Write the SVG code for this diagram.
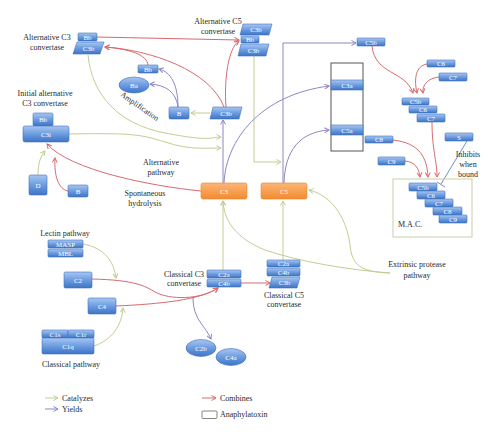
<svg xmlns="http://www.w3.org/2000/svg" width="500" height="436" viewBox="0 0 500 436">
<style>
.b{fill:url(#gb);stroke:#4272bd;stroke-width:0.6}
.o{fill:url(#go);stroke:#e3872f;stroke-width:0.6}
.t{font-family:"Liberation Serif",serif;font-size:8px;fill:#2a2a2a;text-anchor:middle}
.tl{font-family:"Liberation Serif",serif;font-size:8px;fill:#2a2a2a}
.w{font-family:"Liberation Serif",serif;font-size:7px;fill:#fff;text-anchor:middle}
.g{stroke:#c2cd92;fill:none;stroke-width:1;marker-end:url(#ag)}
.p{stroke:#8d86c4;fill:none;stroke-width:1;marker-end:url(#ap)}
.r{stroke:#d86a6e;fill:none;stroke-width:1;marker-end:url(#ar)}
</style>
<defs>
<linearGradient id="gb" x1="0" y1="0" x2="0" y2="1">
<stop offset="0" stop-color="#a8c7f2"/><stop offset="0.5" stop-color="#6d9ce0"/><stop offset="1" stop-color="#3c74c6"/>
</linearGradient>
<linearGradient id="go" x1="0" y1="0" x2="0" y2="1">
<stop offset="0" stop-color="#fcb676"/><stop offset="1" stop-color="#f38a30"/>
</linearGradient>
<marker id="ag" viewBox="0 0 6 6" refX="5" refY="3" markerWidth="6" markerHeight="6" orient="auto" markerUnits="userSpaceOnUse"><path d="M0.5,0.5 L5,3 L0.5,5.5" fill="none" stroke="#c2cd92" stroke-width="1"/></marker>
<marker id="ap" viewBox="0 0 6 6" refX="5" refY="3" markerWidth="6" markerHeight="6" orient="auto" markerUnits="userSpaceOnUse"><path d="M0.5,0.5 L5,3 L0.5,5.5" fill="none" stroke="#8d86c4" stroke-width="1"/></marker>
<marker id="ar" viewBox="0 0 6 6" refX="5" refY="3" markerWidth="6" markerHeight="6" orient="auto" markerUnits="userSpaceOnUse"><path d="M0.5,0.5 L5,3 L0.5,5.5" fill="none" stroke="#d86a6e" stroke-width="1"/></marker>
</defs>
<rect width="500" height="436" fill="#fff"/>

<g id="connectors">
<!-- green: catalyzes -->
<path class="g" d="M88,55 C92,95 118,124 165,133 S210,137 221,137"/>
<path class="g" d="M69,134 C130,133 140,134 165,142 S200,148 221,148"/>
<path class="g" d="M254,56 L254,162 L281,162"/>
<path class="g" d="M210,113 L191,113"/>
<path class="g" d="M38,175 C38,162 41,156 45,151"/>
<path class="g" d="M223,270 L223,201"/>
<path class="g" d="M283,260 L283,201"/>
<path class="g" d="M390,273 C360,272 352,265 350,245 C346,215 330,195 309,190"/>
<path class="g" d="M390,273 C350,270 300,262 265,250 C235,238 224,220 223,201"/>
<path class="g" d="M83,244 C105,248 114,262 116,278"/>
<path class="g" d="M94,346 C112,340 122,325 123,308"/>
<!-- purple: yields -->
<path class="p" d="M223,183 L223,120"/>
<path class="p" d="M224,183 C226,140 260,95 329,86"/>
<path class="p" d="M283,183 L283,43 L356,43"/>
<path class="p" d="M284,183 C285,150 300,132 329,130"/>
<path class="p" d="M178,107 C178,85 171,72 159,69"/>
<path class="p" d="M178,107 C176,92 166,85 150,84"/>
<path class="p" d="M193,297 C193,320 205,325 211,339"/>
<!-- red: combines -->
<path class="r" d="M96,37 L239,40"/>
<path class="r" d="M226,107 C224,80 228,48 239,41"/>
<path class="r" d="M224,107 C210,70 150,50 105,47"/>
<path class="r" d="M148,65 C147,55 130,49 105,47"/>
<path class="r" d="M201,191 C150,186 70,170 47,144"/>
<path class="r" d="M68,191 C58,189 54,175 55,158"/>
<path class="r" d="M92,279 C135,280 145,286 155,292 C170,300 200,300 218,288"/>
<path class="r" d="M116,306 C160,304 200,300 218,288"/>
<path class="r" d="M241,283 L270,283"/>
<path class="r" d="M372,46 C375,75 405,70 413,93"/>
<path class="r" d="M427,64 C415,66 414,80 417,93"/>
<path class="r" d="M439,77 C428,78 422,85 423,93"/>
<path class="r" d="M405,161 C415,162 419,168 420,177"/>
<path class="r" d="M393,140 C420,143 427,158 428,177"/>
<path class="r" d="M432,122 C432,150 437,160 437,177"/>
<!-- inhibition -->
<path d="M467,141 L441,184 M437,182 L445,187" stroke="#6f8fc8" stroke-width="1" fill="none"/>
</g>

<g id="alt-c3-convertase">
<text class="t" x="47" y="40">Alternative C3</text>
<text class="t" x="47" y="50">convertase</text>
<rect class="b" x="78" y="33" width="19" height="8" rx="1"/>
<text class="w" x="87.5" y="39.5">Bb</text>
<polygon class="b" points="77,42 104,42 100,54 73,54"/>
<text class="w" x="88.5" y="50.5">C3b</text>
</g>

<g id="alt-c5-convertase">
<text class="t" x="218" y="24">Alternative C5</text>
<text class="t" x="218" y="34">convertase</text>
<polygon class="b" points="243,24 272,24 269,35 240,35"/>
<text class="w" x="256" y="32">C3b</text>
<rect class="b" x="241" y="36" width="18" height="7" rx="1"/>
<text class="w" x="250" y="42">Bb</text>
<polygon class="b" points="241,44 269,44 266,56 238,56"/>
<text class="w" x="253.5" y="52.5">C3b</text>
</g>

<g id="initial-alt-c3">
<text class="t" x="45" y="96">Initial alternative</text>
<text class="t" x="45" y="106">C3 convertase</text>
<rect class="b" x="33" y="113" width="20" height="13" rx="1.5"/>
<text class="w" x="43" y="121.5">Bb</text>
<rect class="b" x="23" y="126" width="46" height="16" rx="2"/>
<text class="w" x="46" y="136.5">C3i</text>
</g>

<g id="D"><rect class="b" x="29" y="175" width="18" height="20" rx="1.5"/><text class="w" x="38" y="187.5">D</text></g>
<g id="B1"><rect class="b" x="68" y="185" width="20" height="12" rx="1.5"/><text class="w" x="78" y="193.5">B</text></g>

<g id="Bb-small"><rect class="b" x="138" y="65" width="20" height="8" rx="1"/><text class="w" x="148" y="71.5">Bb</text></g>
<g id="Ba"><ellipse class="b" cx="134" cy="85" rx="15" ry="8"/><text class="w" x="134" y="87.5">Ba</text></g>
<g id="B2"><rect class="b" x="169" y="107" width="20" height="12" rx="1.5"/><text class="w" x="179" y="115.5">B</text></g>
<g id="C3b-mid"><polygon class="b" points="213,107 242,107 239,119 210,119"/><text class="w" x="226" y="115.5">C3b</text></g>

<g id="labels-mid">
<text class="t" x="140" y="109" transform="rotate(35 140 106)">Amplification</text>
<text class="t" x="161" y="165">Alternative</text>
<text class="t" x="161" y="175">pathway</text>
<text class="t" x="145" y="196">Spontaneous</text>
<text class="t" x="145" y="206">hydrolysis</text>
</g>

<g id="C3"><rect class="o" x="201" y="183" width="46" height="16" rx="2"/><text class="w" x="224" y="193.5">C3</text></g>
<g id="C5"><rect class="o" x="261" y="183" width="46" height="16" rx="2"/><text class="w" x="284" y="193.5">C5</text></g>

<g id="anaphylatoxin">
<rect x="331" y="63" width="32" height="88" fill="#fff" stroke="#555" stroke-width="1"/>
<rect class="b" x="331" y="80" width="32" height="10"/>
<text class="w" x="347" y="87.5">C3a</text>
<rect class="b" x="331" y="125" width="32" height="10"/>
<text class="w" x="347" y="132.5">C5a</text>
</g>

<g id="C5b"><rect class="b" x="357" y="38" width="28" height="8" rx="1"/><text class="w" x="371" y="44.5">C5b</text></g>
<g id="C6"><rect class="b" x="427" y="60" width="28" height="7" rx="1"/><text class="w" x="441" y="66">C6</text></g>
<g id="C7"><rect class="b" x="439" y="73" width="28" height="8" rx="1"/><text class="w" x="453" y="79.5">C7</text></g>

<g id="C5b67">
<rect class="b" x="402" y="98" width="27" height="7" rx="1"/><text class="w" x="415.5" y="104">C5b</text>
<rect class="b" x="409" y="106" width="28" height="7" rx="1"/><text class="w" x="423" y="112">C6</text>
<rect class="b" x="417" y="114" width="28" height="8" rx="1"/><text class="w" x="431" y="120.5">C7</text>
</g>

<g id="C8"><rect class="b" x="365" y="136" width="28" height="7" rx="1"/><text class="w" x="379" y="142">C8</text></g>
<g id="C9"><rect class="b" x="378" y="157" width="27" height="8" rx="1"/><text class="w" x="391.5" y="163.5">C9</text></g>
<g id="S"><rect class="b" x="445" y="133" width="28" height="8" rx="1"/><text class="w" x="459" y="139.5">S</text></g>
<g id="inhibits-label">
<text class="t" x="468" y="157">Inhibits</text>
<text class="t" x="468" y="167">when</text>
<text class="t" x="468" y="177">bound</text>
</g>

<g id="MAC">
<rect x="393" y="179" width="79" height="58" fill="none" stroke="#c9cfa8" stroke-width="1"/>
<rect class="b" x="409" y="183" width="28" height="8" rx="1"/><text class="w" x="423" y="189.5">C5b</text>
<rect class="b" x="417" y="191" width="28" height="8" rx="1"/><text class="w" x="431" y="197.5">C6</text>
<rect class="b" x="425" y="199" width="28" height="8" rx="1"/><text class="w" x="439" y="205.5">C7</text>
<rect class="b" x="433" y="207" width="29" height="8" rx="1"/><text class="w" x="447.5" y="213.5">C8</text>
<rect class="b" x="439" y="215" width="28" height="8" rx="1"/><text class="w" x="453" y="221.5">C9</text>
<text class="tl" x="398" y="227">M.A.C.</text>
</g>

<g id="extrinsic">
<text class="t" x="417" y="267">Extrinsic protease</text>
<text class="t" x="417" y="278">pathway</text>
</g>

<g id="classical-c3-convertase">
<text class="t" x="184" y="277">Classical C3</text>
<text class="t" x="184" y="286">convertase</text>
<rect class="b" x="207" y="270" width="34" height="8" rx="1"/><text class="w" x="224" y="276.5">C2a</text>
<rect class="b" x="207" y="279" width="34" height="8" rx="1"/><text class="w" x="224" y="285.5">C4b</text>
</g>

<g id="classical-c5-convertase">
<rect class="b" x="267" y="260" width="33" height="7" rx="1"/><text class="w" x="283.5" y="266">C2a</text>
<rect class="b" x="267" y="268" width="33" height="8" rx="1"/><text class="w" x="283.5" y="274.5">C4b</text>
<polygon class="b" points="272,277 300,277 297,288 269,288"/><text class="w" x="284.5" y="285">C3b</text>
<text class="t" x="284" y="298">Classical C5</text>
<text class="t" x="284" y="307">convertase</text>
</g>

<g id="C2b"><ellipse class="b" cx="201" cy="348" rx="15" ry="8.5"/><text class="w" x="201" y="350.5">C2b</text></g>
<g id="C4a"><ellipse class="b" cx="231" cy="357" rx="15" ry="8.5"/><text class="w" x="231" y="359.5">C4a</text></g>

<g id="lectin">
<text class="t" x="65" y="236">Lectin pathway</text>
<rect class="b" x="48" y="240" width="35" height="8" rx="1"/><text class="w" x="65.5" y="246.5">MASP</text>
<rect class="b" x="48" y="249" width="35" height="8" rx="1"/><text class="w" x="65.5" y="255.5">MBL</text>
</g>

<g id="C2"><rect class="b" x="64" y="272" width="28" height="16" rx="1.5"/><text class="w" x="78" y="282.5">C2</text></g>
<g id="C4"><rect class="b" x="88" y="298" width="28" height="16" rx="1.5"/><text class="w" x="102" y="308.5">C4</text></g>

<g id="classical">
<rect class="b" x="42" y="330" width="26" height="8" rx="1"/><text class="w" x="55" y="336.5">C1s</text>
<rect class="b" x="68" y="330" width="26" height="8" rx="1"/><text class="w" x="81" y="336.5">C1r</text>
<rect class="b" x="42" y="338" width="52" height="16" rx="1.5"/><text class="w" x="68" y="348.5">C1q</text>
<text class="t" x="71" y="367">Classical pathway</text>
</g>

<g id="legend">
<path class="g" d="M45,398 L58,398"/>
<text class="tl" x="62" y="401">Catalyzes</text>
<path class="p" d="M45,409 L58,409"/>
<text class="tl" x="62" y="412">Yields</text>
<path class="r" d="M202,398 L216,398"/>
<text class="tl" x="220" y="401">Combines</text>
<rect x="202" y="411" width="15" height="7.5" rx="1" fill="#fff" stroke="#666" stroke-width="0.8"/>
<text class="tl" x="220" y="417">Anaphylatoxin</text>
</g>
</svg>
